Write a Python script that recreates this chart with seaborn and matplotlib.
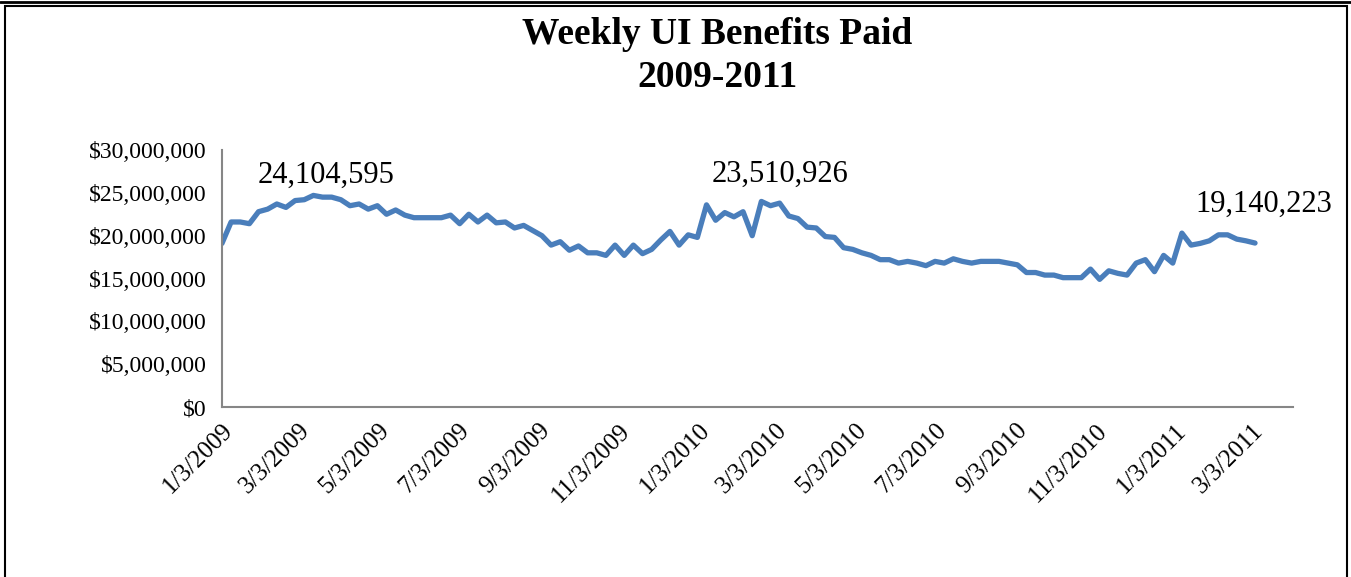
import numpy as np
import pandas as pd
import matplotlib
matplotlib.use("Agg")
import matplotlib.pyplot as plt
import matplotlib.ticker as mticker
from matplotlib.patches import Rectangle
import seaborn as sns

# weekly benefits paid, $ millions (week ending 1/3/2009 onward)
start_date = "2009-01-03"
benefits_m = [
    19.1, 21.6, 21.6, 21.4, 22.8, 23.1, 23.7, 23.3, 24.1, 24.2,
    24.7, 24.5, 24.5, 24.2, 23.5, 23.7, 23.1, 23.5, 22.5, 23.0,
    22.4, 22.1, 22.1, 22.1, 22.1, 22.4, 21.4, 22.5, 21.6, 22.4,
    21.5, 21.6, 20.9, 21.2, 20.6, 20.0, 18.9, 19.3, 18.3, 18.8,
    18.0, 18.0, 17.7, 18.9, 17.7, 18.9, 17.9, 18.4, 19.5, 20.5,
    18.9, 20.1, 19.8, 23.6, 21.8, 22.7, 22.2, 22.8, 20.0, 24.0,
    23.5, 23.8, 22.3, 22.0, 21.0, 20.9, 19.9, 19.8, 18.6, 18.4,
    18.0, 17.7, 17.2, 17.2, 16.8, 17.0, 16.8, 16.5, 17.0, 16.8,
    17.3, 17.0, 16.8, 17.0, 17.0, 17.0, 16.8, 16.6, 15.7, 15.7,
    15.4, 15.4, 15.1, 15.1, 15.1, 16.1, 14.9, 15.9, 15.6, 15.4,
    16.8, 17.2, 15.8, 17.7, 16.8, 20.3, 18.9, 19.1, 19.4, 20.1,
    20.1, 19.6, 19.4, 19.14,
]
tick_dates = ["2009-01-03", "2009-03-03", "2009-05-03", "2009-07-03", "2009-09-03",
              "2009-11-03", "2010-01-03", "2010-03-03", "2010-05-03", "2010-07-03",
              "2010-09-03", "2010-11-03", "2011-01-03", "2011-03-03"]
tick_labels = ["1/3/2009", "3/3/2009", "5/3/2009", "7/3/2009", "9/3/2009",
               "11/3/2009", "1/3/2010", "3/3/2010", "5/3/2010", "7/3/2010",
               "9/3/2010", "11/3/2010", "1/3/2011", "3/3/2011"]
# callout labels: (text, date under label centre, height in $ millions)
callouts = [("24,104,595", "2009-03-24", 27.0),
            ("23,510,926", "2010-03-06", 27.2),
            ("19,140,223", "2011-03-12", 23.7)]

df = pd.DataFrame({
    "week": pd.date_range(start_date, periods=len(benefits_m), freq="7D"),
    "paid": np.array(benefits_m) * 1e6,
})

sns.set_style("white")
plt.rcParams["font.family"] = ["Liberation Serif", "DejaVu Serif"]
plt.rcParams["text.color"] = "black"

fig = plt.figure(figsize=(13.51, 5.77), dpi=100)
ax = fig.add_axes([0.1643, 0.2946, 0.7927, 0.4454])

sns.lineplot(data=df, x="week", y="paid", ax=ax, color="#4A7EBB", linewidth=3.8)

ax.set_ylim(0, 30e6)
ax.yaxis.set_major_locator(mticker.MultipleLocator(5e6))
ax.yaxis.set_major_formatter(mticker.StrMethodFormatter("${x:,.0f}"))
ax.set_xlim(pd.Timestamp("2009-01-03"), pd.Timestamp("2011-04-03"))
ax.set_xticks(pd.to_datetime(tick_dates))
ax.set_xticklabels(tick_labels, rotation=45, ha="right", rotation_mode="anchor")
ax.set_xlabel("")
ax.set_ylabel("")

for side in ["top", "right"]:
    ax.spines[side].set_visible(False)
for side in ["left", "bottom"]:
    ax.spines[side].set_color("#868686")
    ax.spines[side].set_linewidth(1.5)
ax.tick_params(axis="both", direction="out", length=6, width=1.5, color="#868686",
               labelcolor="black")
ax.tick_params(axis="y", labelsize=17, pad=5)
ax.tick_params(axis="x", labelsize=18, pad=3)

for text, d, h in callouts:
    ax.text(pd.Timestamp(d), h * 1e6, text, ha="center", va="center", fontsize=22)

fig.text(0.531, 0.903, "Weekly UI Benefits Paid\n2009-2011", ha="center", va="center",
         fontsize=27, fontweight="bold", linespacing=1.3, color="black")

# chart frame
fig.patches.append(Rectangle((0.004, -0.02), 0.993, 1.01, transform=fig.transFigure,
                             fill=False, edgecolor="black", linewidth=1.5))
fig.add_artist(plt.Line2D([0, 1], [0.997, 0.997], transform=fig.transFigure,
                          color="black", linewidth=2))

fig.savefig("out.png", dpi=100)
